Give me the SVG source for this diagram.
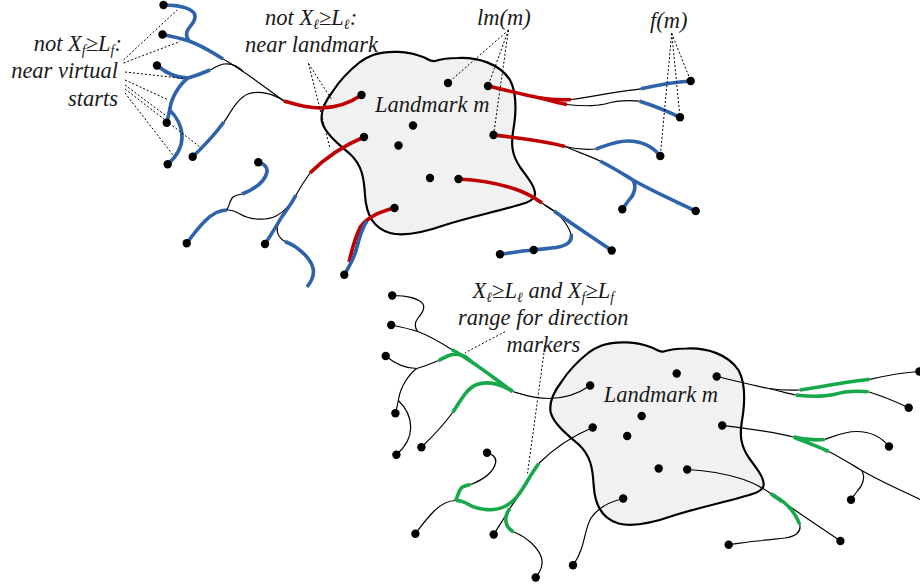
<svg xmlns="http://www.w3.org/2000/svg" width="920" height="584" viewBox="0 0 920 584">
<style>
text{font-family:"Liberation Serif","Times New Roman",serif;font-style:italic;font-size:22.5px;fill:#1a1a1a}
.sub{font-size:14px}
.blob{fill:#f1f1f1;stroke:#000;stroke-width:2.2}
.thin{fill:none;stroke:#000;stroke-width:1.2}
.red{fill:none;stroke:#c00000;stroke-width:3.6}
.blue{fill:none;stroke:#2e63ab;stroke-width:3.6}
.green{fill:none;stroke:#17a84a;stroke-width:3.6}
.dot{fill:#000}
.lead{fill:none;stroke:#000;stroke-width:1;stroke-dasharray:2 2}
</style>
<defs>
<path id="blob" d="M373,55 C388,50 408,51 423,57 C428,59 431,62 435,61 C441,59 447,58 458,58 C478,57 500,64 510,80 C518,95 516,115 513,132 C511,145 512,155 520,167 C527,177 535,186 535,194 C535,200 527,203 515,206 C495,212 470,217 445,225 C425,232 405,237 390,233 C372,228 366,212 365,195 C364,178 362,165 350,154 C337,143 325,133 322,122 C320,112 326,100 333,91 C340,80 350,70 360,62 C364,59 368,57 373,55 Z"/>
<path id="Ar" d="M361.5,95 C350,103 335,108 320,108 C305,108 294,104 284,101"/>
<path id="Aa1" d="M284,101 C271,92 256,80 243,71.5"/>
<path id="Aa2" d="M243,71.5 C236,67 229,62 223,59"/>
<path id="Aab" d="M223,59 C212,52 200,45 189,41"/>
<path id="AO2" d="M189,41 C180,38 170,36 162.5,34.5"/>
<path id="AO1" d="M189,41 C186,37 186,32 189,28 C193,23 197,18 194,13 C190,8 178,5 163.5,5"/>
<path id="Abm" d="M243,71.5 C238,66 231,63 224,64 C218,65 214,68 210,70"/>
<path id="Abb" d="M210,70 C203,73 195,76 188,78"/>
<path id="AO3" d="M188,78 C178,78 166,73 157,65.5"/>
<path id="AO4" d="M188,78 C180,84 172,96 170,108 C169,114 168,118 166.7,122.7"/>
<path id="AO5" d="M169.6,110 C176,116 182,126 182,137 C182,148 176,157 167.7,164.3"/>
<path id="Acm" d="M284,101 C274,94 260,90 248,94 C238,98 232,110 224,122"/>
<path id="Acb" d="M224,122 C215,134 203,147 192.7,156.7"/>
<path id="Br" d="M364,137 C345,145 325,158 310,173"/>
<path id="Bm1" d="M310,173 C305,180 300,188 296,195"/>
<path id="Bm2" d="M296,195 C291,203 286,211 276,216 C266,221 250,220 240,214 C235,211 231,210 227,210"/>
<path id="Bupm" d="M227,210 C229,206 230,200 233,197 C236,195 239,194.5 242,194"/>
<path id="Bupb" d="M242,194 C255,189 265,181 267,172 C268,167 263,163 258.3,162.3"/>
<path id="Bleftb" d="M227,210 C219,210 212,214 205,221 C198,228 192,236 186.7,243.3"/>
<path id="O9a" d="M296,195 C292,203 286,211 281,218"/>
<path id="O9b" d="M281,218 C276,227 270,236 265,244"/>
<path id="O10m" d="M281,218 C277,224 276,231 279,236 C281,239 283,240.5 285,241.5"/>
<path id="O10b" d="M285,241.5 C297,246 310,257 313,268 C315,276 311,282 307,287"/>
<path id="Cfull" d="M394.5,208 C382,211 369,217 362,228 C357,237 356,250 352,260 C350,266 347,271 344.3,274.7"/>
<path id="Cr" d="M394.5,208 C382,211 368,217 361,226 C355,236 352,250 349,262"/>
<path id="Cb" d="M367,221 C362,228 359,239 356.5,249 C354,258 349,267 344.3,274.7"/>
<path id="Dr0" d="M488,86 C505,90 525,95 540,98"/>
<path id="D1r" d="M540,98 C550,99.5 560,100 571,99.5"/>
<path id="D2r" d="M540,98 C550,100 558,103 567,104.5"/>
<path id="D1m" d="M571,99.5 C595,96 620,91 641,88.8"/>
<path id="D1b" d="M641,88.8 C658,85 675,82 690.7,81"/>
<path id="D2m" d="M567,104.5 C580,106 592,107 605,104 C615,101 627,100 639.6,101.2"/>
<path id="D2b" d="M639.6,101.2 C652,105 667,111 680,117.3"/>
<path id="Er" d="M493.5,135 C510,137 545,141 565,146.5"/>
<path id="E1m" d="M565,146.5 C575,149 585,150 596,149"/>
<path id="E1b" d="M596,149 C605,146 615,141 628,141 C642,141 653,147 660.3,156"/>
<path id="E2m" d="M565,146.5 C575,151 587,155 600,161"/>
<path id="E2b1" d="M600,161 C612,167 623,174 633,180"/>
<path id="E2b2" d="M633,180 C652,191 675,201 695.7,211"/>
<path id="E2b3" d="M633,180 C637,187 634,195 629,200 C626,204 624,207 622.3,209.3"/>
<path id="Fr" d="M458.5,179 C480,180 500,184 515,189 C527,193 535,198 542,203"/>
<path id="F1m" d="M542,203 C546,206 550,209 554,211"/>
<path id="F1b" d="M554,211 C572,224 592,237 611.7,250.5"/>
<path id="F2m" d="M545,205 C556,211 566,220 571,234"/>
<path id="F2b" d="M571,234 C573,242 566,246 556,247.5 C548,248.5 540,249 533.7,250 C520,251 510,253 500,254.3"/>
<g id="dots">
<circle cx="448" cy="83" r="4.2"/><circle cx="488" cy="86" r="4.2"/><circle cx="361.5" cy="95" r="4.2"/><circle cx="413" cy="125.5" r="4.2"/><circle cx="364" cy="137" r="4.2"/><circle cx="398.5" cy="145.5" r="4.2"/><circle cx="493.5" cy="135" r="4.2"/><circle cx="430" cy="178" r="4.2"/><circle cx="458.5" cy="179" r="4.2"/><circle cx="394.5" cy="208" r="4.2"/>
<circle cx="163.5" cy="5" r="4.2"/><circle cx="162.5" cy="34.5" r="4.2"/><circle cx="157" cy="65.5" r="4.2"/><circle cx="166.7" cy="122.7" r="4.2"/><circle cx="167.7" cy="164.3" r="4.2"/><circle cx="192.7" cy="156.7" r="4.2"/><circle cx="258.3" cy="162.3" r="4.2"/><circle cx="186.7" cy="243.3" r="4.2"/><circle cx="265" cy="244" r="4.2"/><circle cx="344.3" cy="274.7" r="4.2"/>
<circle cx="690.7" cy="81" r="4.2"/><circle cx="680" cy="117.3" r="4.2"/><circle cx="660.3" cy="156" r="4.2"/><circle cx="695.7" cy="211" r="4.2"/><circle cx="622.3" cy="209.3" r="4.2"/><circle cx="611.7" cy="250.5" r="4.2"/><circle cx="500" cy="254.3" r="4.2"/>
</g>
</defs>

<g id="landmark-top"><use href="#blob" class="blob"/></g>
<g id="landmark-bottom" transform="translate(228.7,290.5)"><use href="#blob" class="blob"/></g>

<g id="connectors">
<g id="top-trajectories">
<g class="thin"><use href="#Aa1"/><use href="#Aa2"/><use href="#Abm"/><use href="#Acm"/><use href="#Bm1"/><use href="#Bm2"/><use href="#Bupm"/><use href="#O10m"/><use href="#D1m"/><use href="#D2m"/><use href="#E1m"/><use href="#E2m"/><use href="#F1m"/><use href="#F2m"/><use href="#Cfull"/></g>
<g class="red"><use href="#Ar"/><use href="#Br"/><use href="#Cr"/><use href="#Dr0"/><use href="#D1r"/><use href="#D2r"/><use href="#Er"/><use href="#Fr"/></g>
<g class="blue"><use href="#Aab"/><use href="#AO2"/><use href="#AO1"/><use href="#Abb"/><use href="#AO3"/><use href="#AO4"/><use href="#AO5"/><use href="#Acb"/><use href="#Bupb"/><use href="#Bleftb"/><use href="#O9a"/><use href="#O9b"/><use href="#O10b"/><use href="#Cb"/><use href="#D1b"/><use href="#D2b"/><use href="#E1b"/><use href="#E2b1"/><use href="#E2b2"/><use href="#E2b3"/><use href="#F1b"/><use href="#F2b"/></g>
</g>
<g id="bottom-trajectories" transform="translate(228.7,290.5)">
<g class="thin"><use href="#Ar"/><use href="#Br"/><use href="#Cfull"/><use href="#Dr0"/><use href="#D1r"/><use href="#D2r"/><use href="#Er"/><use href="#Fr"/><use href="#Aab"/><use href="#AO2"/><use href="#AO1"/><use href="#Abb"/><use href="#AO3"/><use href="#AO4"/><use href="#AO5"/><use href="#Acb"/><use href="#Bupb"/><use href="#Bleftb"/><use href="#O9a"/><use href="#O9b"/><use href="#O10b"/><use href="#D1b"/><use href="#D2b"/><use href="#E1b"/><use href="#E2b1"/><use href="#E2b2"/><use href="#E2b3"/><use href="#F1b"/><use href="#F2b"/></g>
<g class="green"><use href="#Aa1"/><use href="#Aa2"/><use href="#Abm"/><use href="#Acm"/><use href="#Bm1"/><use href="#Bm2"/><use href="#Bupm"/><use href="#O10m"/><use href="#D1m"/><use href="#D2m"/><use href="#E1m"/><use href="#E2m"/><use href="#F1m"/><use href="#F2m"/></g>
</g>
<g id="leaders" class="lead">
<path d="M123.5,60 L177,10 M123.5,63 L180,41.5 M125,72 L183.5,78.5 M125,80 L168.5,100 M125,85 L165,115 M125,89 L200,147 M125,93 L173,155"/>
<path d="M308.5,63.5 L332,100 M308.5,63.5 L330,148.5"/>
<path d="M508.5,30 L448,83 M508.5,30 L488,86 M508.5,30 L493.5,135"/>
<path d="M671.7,33.3 L690.7,81 M671.7,33.3 L680,117.3 M671.7,33.3 L660.3,156"/>
<path d="M505,331.7 L465,352.7 M545,345 L527.5,473.5"/>
</g>
</g>

<g id="points-top" class="dot"><use href="#dots"/><circle cx="533.7" cy="250" r="4.2"/></g>
<g id="points-bottom" class="dot" transform="translate(228.7,290.5)"><use href="#dots"/><circle cx="307" cy="287" r="4.2"/></g>

<g id="labels">
<text x="375" y="111.7">Landmark m</text>
<text x="603.7" y="402.2">Landmark m</text>
<text x="122" y="51" text-anchor="end">not X<tspan class="sub" dy="4">f</tspan><tspan dy="-4">≥L</tspan><tspan class="sub" dy="4">f</tspan><tspan dy="-4">:</tspan></text>
<text x="118" y="78" text-anchor="end">near virtual</text>
<text x="118" y="106" text-anchor="end">starts</text>
<text x="265" y="25">not X<tspan class="sub" dy="4">ℓ</tspan><tspan dy="-4">≥L</tspan><tspan class="sub" dy="4">ℓ</tspan><tspan dy="-4">:</tspan></text>
<text x="245" y="51.7">near landmark</text>
<text x="477" y="25">lm(m)</text>
<text x="650" y="28">f(m)</text>
<text x="543.3" y="298.3" text-anchor="middle">X<tspan class="sub" dy="4">ℓ</tspan><tspan dy="-4">≥L</tspan><tspan class="sub" dy="4">ℓ</tspan><tspan dy="-4"> and X</tspan><tspan class="sub" dy="4">f</tspan><tspan dy="-4">≥L</tspan><tspan class="sub" dy="4">f</tspan></text>
<text x="543.3" y="325" text-anchor="middle">range for direction</text>
<text x="543.3" y="351.7" text-anchor="middle">markers</text>
</g>
</svg>
